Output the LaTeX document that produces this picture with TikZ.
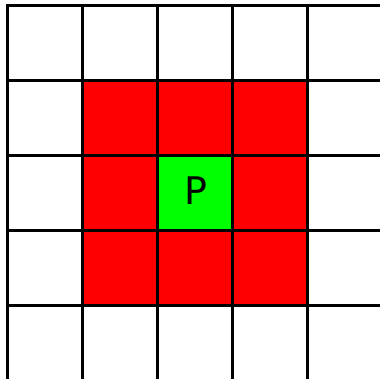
\documentclass[tikz,border=0pt]{standalone}
\usepackage{fontspec}
\setsansfont{DejaVu Sans}
\usetikzlibrary{positioning}
\tikzset{gridline/.style={line width=3pt, color=black},
  celltext/.style={font=\sffamily\fontsize{38}{38}\selectfont, inner sep=0pt}}

\begin{document}
\begin{tikzpicture}[x=1pt,y=1pt,yscale=-1,xscale=1]
		\useasboundingbox (0,0) rectangle (380,378);
		\clip (0,0) rectangle (380,378);
		%Neighbour cells
		\fill [red] (82.5,80.5) rectangle (307.5,305.5);
		%Centre cell
		\fill [green] (157.5,155.5) rectangle (232.5,230.5);
		%Grid lines
		\foreach \i in {0,...,5} {
			\draw [gridline] (7.5+75*\i,4) -- (7.5+75*\i,382);
			\draw [gridline] (6,5.5+75*\i) -- (384,5.5+75*\i);
		}
		% Text Node
		\node [celltext, anchor=base] (p) at (196,204) {P};
\end{tikzpicture}
\end{document}
